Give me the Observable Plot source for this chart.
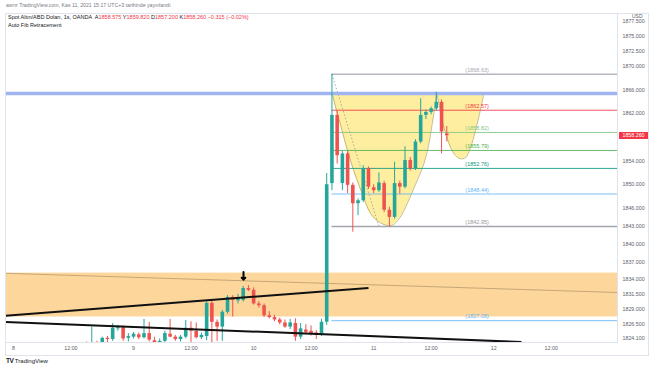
<!DOCTYPE html>
<html><head><meta charset="utf-8">
<script src="https://cdn.jsdelivr.net/npm/d3@7"></script>
<script src="https://cdn.jsdelivr.net/npm/@observablehq/plot@0.6"></script>
<style>
body{margin:0;background:#fff;font-family:"Liberation Sans",Arial,sans-serif;}
#wrap{position:relative;width:654px;height:366px;overflow:hidden;background:#fff;}
#wrap svg{position:absolute;left:0;top:0;}
.t{position:absolute;white-space:nowrap;line-height:1;}
.r{color:#f23645;}
#box{position:absolute;left:5px;top:13px;width:644px;height:343px;border:1px solid #e0e3eb;box-sizing:border-box;}
</style></head><body><div id="wrap">
<div id="box"></div>
<div class="t" style="left:6px;top:2.5px;font-size:5.2px;color:#787b86">asrnr TradingView.com, Kas 11, 2021 15:17 UTC+3 tarihinde yayınlandı</div>
<div class="t" style="left:8px;top:15px;font-size:5.5px;color:#131722">Spot Altın/ABD Doları, 1s, OANDA&nbsp; A<span class="r">1858.575</span> Y<span class="r">1859.820</span> D<span class="r">1857.200</span> K<span class="r">1858.260</span> <span class="r">−0.315 (−0.02%)</span></div>
<div class="t" style="left:8px;top:23px;font-size:5.5px;color:#131722">Auto Fib Retracement</div>
<div class="t" style="left:6px;top:358px;font-size:6px;color:#131722"><b style="font-size:6.5px;letter-spacing:-0.5px">TV</b> TradingView</div>
</div>
<script>
// ---- data ----
const candleIndex = [13,14,15,16,17,18,19,20,21,22,23,24,25,26,27,28,29,30,31,32,33,34,35,36,37,38,39,40,41,42,43,44,45,46,47,48,49,50,51,52,53,54,55,56,57,58,59,60,61,62,63,64,65,66,67,68,69,70,71,72,73,74,75,76,77,78,79,80,81,82,83];
const openP  = [1822.0,1822.8,1822.5,1823.2,1823.3,1824.1,1823.9,1825.7,1825.9,1824.1,1824.3,1824.7,1824.2,1824.9,1823.7,1823.2,1823.6,1824.8,1824.3,1823.9,1824.3,1825.8,1825.3,1824.2,1824.4,1830.0,1826.8,1826.0,1828.5,1831.0,1830.4,1830.5,1832.5,1832.2,1829.9,1829.6,1827.9,1827.6,1827.2,1826.7,1826.0,1826.6,1824.3,1825.5,1825.3,1825.0,1824.8,1826.8,1850.2,1861.7,1850.2,1855.2,1849.9,1846.8,1847.3,1852.7,1849.5,1849.0,1850.2,1845.7,1844.5,1850.2,1849.6,1854.1,1852.7,1857.2,1861.7,1862.2,1862.8,1863.9,1858.575];
const highP  = [1823.2,1823.5,1826.0,1823.6,1824.3,1824.4,1826.6,1826.3,1826.2,1824.9,1825.1,1825.0,1827.3,1826.8,1824.3,1824.0,1825.3,1827.3,1824.6,1824.6,1827.1,1826.9,1826.7,1825.0,1830.3,1830.4,1827.2,1828.8,1831.3,1831.3,1831.5,1832.85,1833.0,1832.6,1830.3,1829.9,1828.6,1828.0,1827.5,1827.2,1827.3,1827.4,1826.6,1826.4,1826.2,1825.4,1827.3,1851.9,1868.63,1862.4,1855.6,1855.6,1850.3,1847.6,1853.2,1853.0,1850.0,1852.0,1850.6,1846.2,1853.8,1850.6,1856.4,1854.6,1857.6,1864.5,1862.6,1863.1,1865.6,1864.3,1859.82];
const lowP   = [1821.5,1822.0,1822.0,1822.4,1822.8,1823.2,1823.6,1825.3,1823.6,1823.5,1824.0,1823.9,1824.0,1823.5,1822.8,1822.6,1823.3,1824.2,1823.6,1823.5,1824.0,1823.3,1824.0,1823.9,1823.7,1823.4,1823.6,1823.6,1828.2,1827.7,1829.9,1830.2,1832.0,1829.7,1829.2,1827.6,1827.4,1826.9,1826.4,1825.8,1825.6,1823.6,1823.9,1824.8,1824.5,1823.9,1824.4,1826.3,1849.0,1853.5,1849.0,1848.5,1842.0,1844.8,1847.0,1849.2,1848.5,1848.7,1845.3,1842.9,1844.2,1848.4,1849.3,1852.3,1852.4,1856.9,1861.0,1861.8,1862.4,1855.2,1857.2];
const closeP = [1822.8,1822.3,1823.2,1822.9,1824.1,1823.9,1825.8,1825.9,1824.0,1824.4,1824.8,1824.2,1824.9,1823.8,1823.2,1823.6,1824.9,1824.3,1823.9,1824.3,1825.8,1825.3,1824.2,1824.6,1830.0,1826.8,1826.0,1828.5,1831.0,1830.5,1830.9,1832.5,1832.2,1829.9,1829.6,1827.9,1827.6,1827.2,1826.7,1826.0,1826.7,1824.3,1825.7,1825.1,1824.9,1824.6,1826.8,1850.0,1861.7,1854.9,1855.2,1849.9,1846.8,1847.3,1852.7,1849.6,1849.0,1850.3,1845.7,1844.5,1850.2,1849.6,1854.1,1852.7,1857.2,1861.7,1862.2,1862.8,1863.9,1858.9,1858.26];

const xTickIdx = [0,11,23,34,46,57,69,80,92,103];
const xTickLbl = ["8","12:00","9","12:00","10","12:00","11","12:00","12","12:00"];
const yTicks = [1877.5,1875,1872.5,1870,1866,1862,1854,1850,1846,1843,1840,1837,1834,1831.5,1829,1826.5,1824.1];

const fibLevels = [1868.63,1862.57,1858.82,1855.79,1852.76,1848.44,1842.95,1827.08];
const fibColors = ["#a8abb3","#f23645","#81c784","#4caf50","#089981","#64b5f6","#9598a1","#64b5f6"];
const fibStart = 61;
const fibLabelAt = 88.8;

const resistance = 1865.4;           // blue horizontal level
const zoneLow = 1827.7, zoneHigh = 1835.1;   // orange zone

// trend lines: [index1, price1, index2, price2]
const tanLine   = [-1.53, 1835.07, 115.7, 1831.83];
const upperLine = [-1.53, 1827.93, 68.0, 1832.6];
const lowerLine = [-1.53, 1826.87, 97.3, 1823.48];
const fibTrend  = [61, 1868.63, 70, 1842.95];
const arrowAt   = [44.06, 1835.3, 1834.0];

// cup shape (index, price)
const cupIdx   = [61.05,61.88,62.78,63.6,64.56,65.7,66.8,68.4,69.9,71.6,72.6,73.9,75.4,77.0,78.6,79.5,80.2,80.75,81.03,81.5,82.1,82.95,83.7,84.67,85.6,86.6,87.55,88.5,89.37,90.1];
const cupPrice = [1865.39,1862.52,1859.70,1856.96,1854.09,1851.05,1848.52,1845.15,1843.80,1843.13,1843.2,1844.3,1846.79,1850.04,1853.53,1856.6,1860.28,1863.36,1865.34,1863.7,1860.8,1858.3,1856.33,1854.93,1854.38,1854.6,1856.28,1859.15,1862.35,1865.34];

const xMin = -1.53, xMax = 115.7, yMin = 1823.40, yMax = 1878.88;
const UP = "#26a69a", DOWN = "#ef5350";

// ---- build ----
const candles = candleIndex.map((i, k) => ({i, o: openP[k], h: highP[k], l: lowP[k], c: closeP[k]}));
const cup = cupIdx.map((i, k) => ({i, p: cupPrice[k]}));
const seg = (a) => [{x1: a[0], y1: a[1], x2: a[2], y2: a[3]}];
const fib = fibLevels.map((v, k) => ({v, color: fibColors[k], w: (k === 0 || k === 6) ? 1.5 : 1}));
const col = d => d.c >= d.o ? UP : DOWN;

const plot = Plot.plot({
  width: 654, height: 366,
  marginLeft: 5, marginRight: 37, marginTop: 13, marginBottom: 24,
  style: {fontFamily: "'Liberation Sans', Arial, sans-serif", fontSize: "5.3px", color: "#5d606b", background: "transparent", overflow: "visible"},
  x: {domain: [xMin, xMax], ticks: xTickIdx, tickFormat: d => xTickLbl[xTickIdx.indexOf(d)], tickSize: 0, tickPadding: 4, label: null},
  y: {domain: [yMin, yMax], axis: "right", ticks: yTicks, tickFormat: d3.format(".3f"), tickSize: 0, tickPadding: 5, label: null},
  color: {type: "identity"},
  marks: [
    Plot.rect([{lo: zoneLow, hi: zoneHigh}], {x1: () => xMin, x2: () => xMax, y1: "lo", y2: "hi", fill: "#fdd69c"}),
    Plot.link(seg(tanLine), {x1: "x1", y1: "y1", x2: "x2", y2: "y2", stroke: "#b79a6b", strokeWidth: 0.8, clip: true}),
    Plot.areaY(cup, {x: "i", y1: "p", y2: () => resistance, curve: "catmull-rom", fill: "#fdeea0"}),
    Plot.line(cup, {x: "i", y: "p", curve: "catmull-rom", stroke: "#b9a95f", strokeWidth: 0.8}),
    Plot.ruleY(fib, {y: "v", x1: () => fibStart, x2: () => xMax, stroke: "color", strokeWidth: "w", strokeOpacity: 0.85}),
    Plot.link(seg(fibTrend), {x1: "x1", y1: "y1", x2: "x2", y2: "y2", stroke: "#9598a1", strokeWidth: 0.8, strokeDasharray: "1.5,2"}),
    Plot.ruleY([resistance], {x1: () => xMin, x2: () => xMax, stroke: "#a0b4f0", strokeWidth: 3.5}),
    Plot.ruleX(candles, {x: "i", y1: "l", y2: "h", stroke: col, strokeWidth: 1, clip: true}),
    Plot.ruleX(candles, {x: "i", y1: "o", y2: "c", stroke: col, strokeWidth: 3.6, clip: true}),
    Plot.link(seg(upperLine), {x1: "x1", y1: "y1", x2: "x2", y2: "y2", stroke: "#111", strokeWidth: 2, clip: true}),
    Plot.link(seg(lowerLine), {x1: "x1", y1: "y1", x2: "x2", y2: "y2", stroke: "#111", strokeWidth: 2, clip: true}),
    Plot.arrow([{i: arrowAt[0], a: arrowAt[1], b: arrowAt[2]}], {x1: "i", x2: "i", y1: "a", y2: "b", stroke: "#000", strokeWidth: 2, headLength: 4, headAngle: 90}),
    Plot.text(fib, {x: () => fibLabelAt, y: "v", text: d => `(${d.v.toFixed(2)})`, fill: "color", dy: -4, fontSize: 5.5}),
    Plot.frame({stroke: "#e0e3eb"})
  ]
});
const wrap = document.getElementById("wrap");
wrap.insertBefore(plot, wrap.firstChild.nextSibling);

// current price label and currency tag on the price axis
const lastClose = closeP[closeP.length - 1];
const py = plot.scale("y").apply(lastClose);
const box = document.createElement("div");
box.className = "t";
box.style.cssText = `left:619px;top:${py - 3.5}px;width:29px;height:7px;background:#f23645;color:#fff;font-size:5.3px;line-height:7px;text-align:center;`;
box.textContent = d3.format(".3f")(lastClose);
wrap.appendChild(box);
const usd = document.createElement("div");
usd.className = "t";
usd.style.cssText = "left:631px;top:14px;font-size:5px;color:#5d606b;background:#fff;padding:0 1px;";
usd.textContent = "USD";
wrap.appendChild(usd);
</script>
</body></html>
